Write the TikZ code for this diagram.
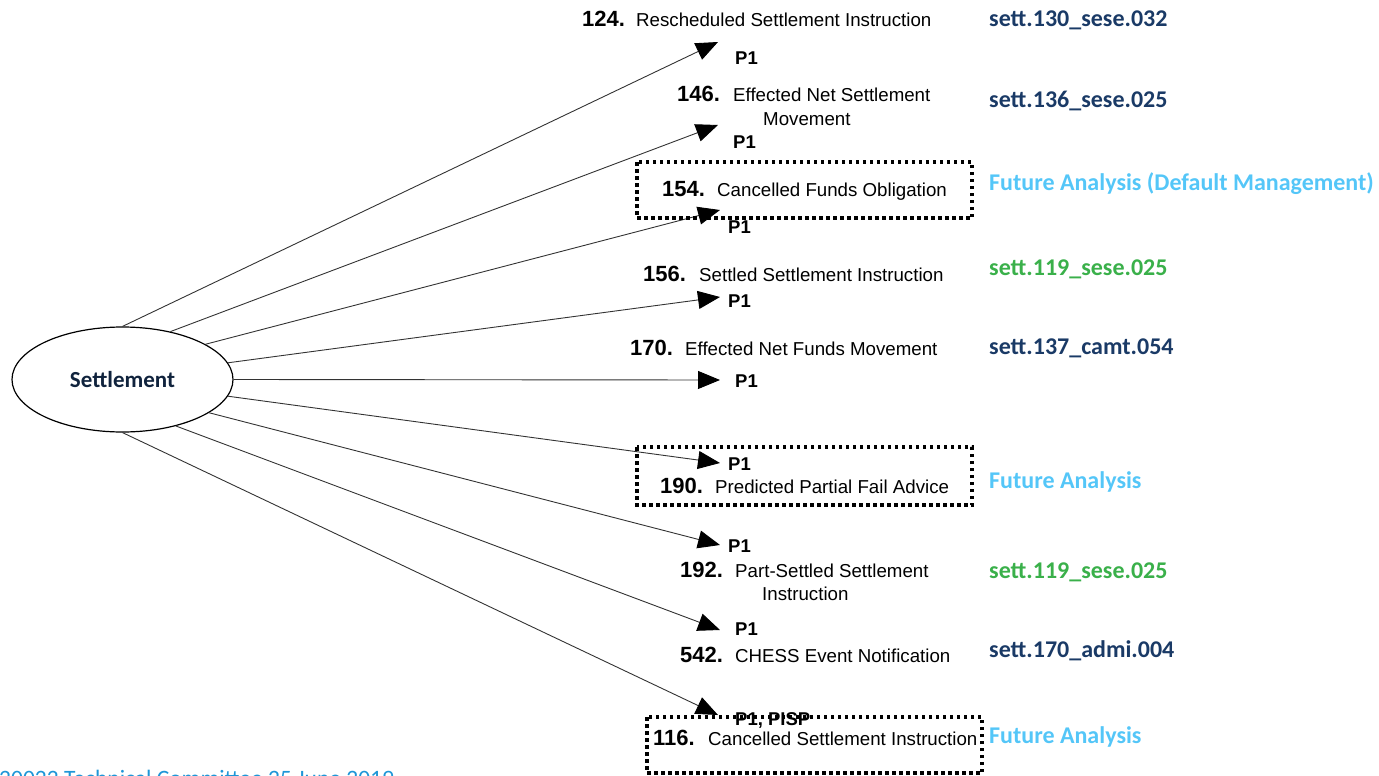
\documentclass[tikz,border=0pt]{standalone}
\usepackage{fontspec}
\setmainfont{Liberation Sans}
\newfontfamily\calibrifont{Carlito}
\usetikzlibrary{shapes.geometric,arrows.meta}
\definecolor{navy}{RGB}{26,58,102}
\definecolor{codegreen}{RGB}{58,176,74}
\definecolor{skyblue}{RGB}{84,198,248}
\definecolor{footblue}{RGB}{30,150,215}

\begin{document}
\begin{tikzpicture}[x=1pt,y=-1pt,
  lbl/.style={inner sep=0,anchor=base west,font=\fontsize{18.7}{22}\selectfont},
  num/.style={inner sep=0,anchor=base west,font=\fontsize{22}{26}\selectfont\bfseries},
  prio/.style={inner sep=0,anchor=base west,font=\fontsize{18.5}{22}\selectfont\bfseries},
  code/.style={inner sep=0,anchor=base west,font=\calibrifont\fontsize{24}{28}\selectfont\bfseries},
  flow/.style={draw=black!80,line width=0.9pt,-{Triangle[length=22pt,width=18pt,fill=black,color=black]}},
  dotbox/.style={draw,line width=3.5pt,dash pattern=on 3.5pt off 3.5pt}
]
\useasboundingbox (0,0) rectangle (1379,776);
\clip (0,0) rectangle (1379,776);

% central process
\node[ellipse,draw,line width=1.2pt,minimum width=221pt,minimum height=105pt,inner sep=0,
      font=\calibrifont\fontsize{23}{28}\selectfont\bfseries,text=navy!60!black]
      (S) at (122.5,379.5) {Settlement};

% arrow tips
\coordinate (t1) at (718,42);
\coordinate (t2) at (718,125);
\coordinate (t3) at (720,210);
\coordinate (t4) at (720,297);
\coordinate (t5) at (720,380);
\coordinate (t6) at (720,463);
\coordinate (t7) at (720,545);
\coordinate (t8) at (720,630);
\coordinate (t9) at (718,715);

\draw[flow] (S.90) -- (t1);
\draw[flow] (S.45.6) -- (t2);
\draw[flow] (S.23.4) -- (t3);
\draw[flow] (S.9.5) -- (t4);
\draw[flow] (S.0) -- (t5);
\draw[flow] (S.-9.8) -- (t6);
\draw[flow] (S.-21.4) -- (t7);
\draw[flow] (S.-41) -- (t8);
\draw[flow] (S.-90) -- (t9);

% message labels
\node[num] (n124) at (582,27) {124.};
\node[lbl] (m124) at (636,27) {Rescheduled Settlement Instruction};
\node[prio] (p124) at (735,64) {P1};

\node[num] (n146) at (677,101) {146.};
\node[lbl] (m146a) at (733,101) {Effected Net Settlement};
\node[lbl] (m146b) at (763,125) {Movement};
\node[prio] (p146) at (733,148) {P1};

\node[num] (n154) at (662,196) {154.};
\node[lbl] (m154) at (717,196) {Cancelled Funds Obligation};
\node[prio] (p154) at (728,233) {P1};

\node[num] (n156) at (643,281) {156.};
\node[lbl] (m156) at (699,281) {Settled Settlement Instruction};
\node[prio] (p156) at (728,307) {P1};

\node[num] (n170) at (630,355) {170.};
\node[lbl] (m170) at (685,355) {Effected Net Funds Movement};
\node[prio] (p170) at (735,387) {P1};

\node[prio] (p190) at (728,470) {P1};
\node[num] (n190) at (660,493) {190.};
\node[lbl] (m190) at (715,493) {Predicted Partial Fail Advice};

\node[prio] (p192) at (728,552) {P1};
\node[num] (n192) at (680,577) {192.};
\node[lbl] (m192a) at (735,577) {Part-Settled Settlement};
\node[lbl] (m192b) at (762,600) {Instruction};

\node[prio] (p542) at (735,635) {P1};
\node[num] (n542) at (680,662) {542.};
\node[lbl] (m542) at (735,662) {CHESS Event Notification};

\node[prio] (p116) at (735,725) {P1, PISP};
\node[num] (n116) at (653,745) {116.};
\node[lbl] (m116) at (708,745) {Cancelled Settlement Instruction};

% dotted frames around messages still under analysis
\draw[dotbox] (637,162) rectangle (972,218);
\draw[dotbox] (637,447) rectangle (972,505);
\draw[dotbox] (647,717) rectangle (982,773);

% message codes
\node[code,text=navy] (c124) at (989,27) {sett.130\_sese.032};
\node[code,text=navy] (c146) at (989,107) {sett.136\_sese.025};
\node[code,text=skyblue] (c154) at (989,190) {Future Analysis (Default Management)};
\node[code,text=codegreen] (c156) at (989,275) {sett.119\_sese.025};
\node[code,text=navy] (c170) at (989,354) {sett.137\_camt.054};
\node[code,text=skyblue] (c190) at (989,488) {Future Analysis};
\node[code,text=codegreen] (c192) at (989,578) {sett.119\_sese.025};
\node[code,text=navy] (c542) at (989,657) {sett.170\_admi.004};
\node[code,text=skyblue] (c116) at (989,743) {Future Analysis};

% footer, running off the lower edge
\node[inner sep=0,anchor=base west,font=\calibrifont\fontsize{23.5}{28}\selectfont,text=footblue]
      (foot) at (-1,786) {20022 Technical Committee 25 June 2019};
\end{tikzpicture}
\end{document}
